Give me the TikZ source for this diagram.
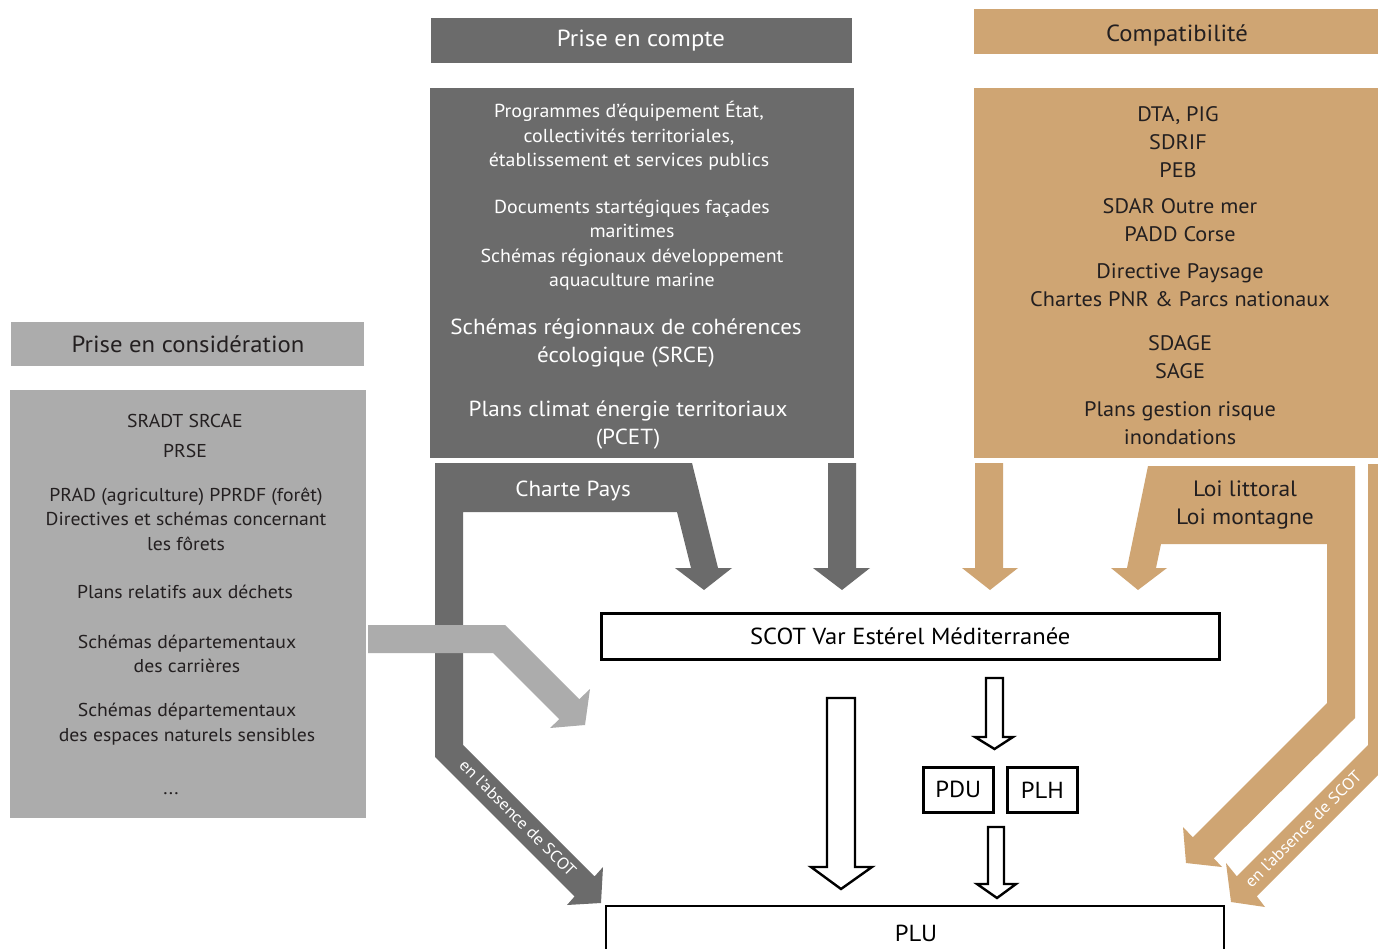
\documentclass[tikz,border=0pt]{standalone}
\usepackage{fontspec}
\setmainfont{PT Sans}[FakeStretch=1.06]
\definecolor{dgrey}{HTML}{6B6B6B}
\definecolor{lgrey}{HTML}{ACACAC}
\definecolor{tanc}{HTML}{CFA573}
\definecolor{ink}{HTML}{231F20}
\begin{document}
\begin{tikzpicture}[x=1pt,y=-1pt,
  small/.style={font=\fontsize{18.8}{24.5}\selectfont, align=center, inner sep=0pt},
  lsmall/.style={font=\fontsize{18.6}{24.5}\selectfont, align=center, inner sep=0pt},
  big/.style={font=\fontsize{21.8}{28.2}\selectfont, align=center, inner sep=0pt},
  tanbig/.style={font=\fontsize{21}{28.2}\selectfont, align=center, inner sep=0pt},
  banner/.style={font=\fontsize{23.3}{28}\selectfont, align=center, inner sep=0pt},
  diag/.style={font=\fontsize{16.4}{18}\selectfont, text=white, inner sep=0pt},
  hollow/.style={draw=black, line width=2.4pt, fill=white, line join=miter},
  frame/.style={draw=black, line width=2.6pt, fill=white}]
\clip (0,0) rectangle (1378,949);
\fill[white] (0,0) rectangle (1378,949);

% --- Prise en compte
\fill[dgrey] (431,18) rectangle (852,63);
\node[banner,text=white] (pec) at (641,41) {Prise en compte};
\fill[dgrey] (430,88) rectangle (854,458);
\node[small,text=white] (d1) at (629,136) {Programmes d’équipement État,\\collectivités territoriales,\\établissement et services publics};
\node[small,text=white] (d2) at (632,245) {Documents startégiques façades\\maritimes\\Schémas régionaux développement\\aquaculture marine};
\node[big,text=white] (d3) at (626,343) {Schémas régionnaux de cohérences\\écologique (SRCE)};
\node[big,text=white] (d4) at (628,425) {Plans climat énergie territoriaux\\(PCET)};

% --- Compatibilite
\fill[tanc] (974,9) rectangle (1378,54);
\node[banner,text=ink] (comp) at (1177,35) {Compatibilité};
\fill[tanc] (974,88) rectangle (1378,458);
\node[tanbig,text=ink] (t1) at (1178,142) {DTA, PIG\\SDRIF\\PEB};
\node[tanbig,text=ink] (t2) at (1180,220) {SDAR Outre mer\\PADD Corse};
\node[tanbig,text=ink] (t3) at (1180,285) {Directive Paysage\\Chartes PNR \& Parcs nationaux};
\node[tanbig,text=ink] (t4) at (1180,357) {SDAGE\\SAGE};
\node[tanbig,text=ink] (t5) at (1180,423) {Plans gestion risque\\inondations};

% --- Prise en consideration
\fill[lgrey] (11,322) rectangle (364,366);
\node[banner,text=ink] (pcons) at (188,344) {Prise en considération};
\fill[lgrey] (10,390) rectangle (366,818);
\node[lsmall,text=ink] (l1) at (185,421) {SRADT SRCAE};
\node[lsmall,text=ink] (l2) at (185,451) {PRSE};
\node[lsmall,text=ink] (l3) at (186,519) {PRAD (agriculture) PPRDF (forêt)\\Directives et schémas concernant\\les fôrets};
\node[lsmall,text=ink] (l4) at (185,592) {Plans relatifs aux déchets};
\node[lsmall,text=ink] (l5) at (187,654) {Schémas départementaux\\des carrières};
\node[lsmall,text=ink] (l6) at (187,724) {Schémas départementaux\\des espaces naturels sensibles};
\node[lsmall,text=ink] (l7) at (171,794) {...};

% --- dark grey arrows
\fill[dgrey] (435,463) -- (692,463) -- (718,568) -- (732,568) -- (704,590) -- (675,568)
  -- (691,568) -- (677,512) -- (463,512) -- (463,745) -- (594.5,876.5) -- (603,867)
  -- (601,903) -- (567,905) -- (574.5,896.5) -- (435,757) -- cycle;
\node[big,text=white] (charte) at (573,491) {Charte Pays};
\node[diag,rotate=-45] (abs1) at (518,818) {en l’absence de SCOT};
\fill[dgrey] (828,463) -- (856,463) -- (856,568) -- (870,568) -- (842,590) -- (813,568) -- (828,568) -- cycle;

% --- light grey arrow
\fill[lgrey] (368,625) -- (505,625) -- (579.25,699.25) -- (590,689) -- (585,725) -- (550,728)
  -- (559.25,719.25) -- (493,653) -- (368,653) -- cycle;

% --- tan arrows
\fill[tanc] (975,463) -- (1003,463) -- (1003,568) -- (1018,568) -- (990,590) -- (962,568) -- (975,568) -- cycle;
\fill[tanc] (1148,466) -- (1355,466) -- (1355,718) -- (1213.75,858.25) -- (1222,867) -- (1186,863)
  -- (1183,827) -- (1192.75,837.25) -- (1327,703) -- (1327,544) -- (1161,544) -- (1156,568)
  -- (1167,568) -- (1138,590) -- (1111,568) -- (1127,568) -- cycle;
\node[font=\fontsize{22.2}{28}\selectfont,align=center,inner sep=0pt,text=ink] (loi) at (1245,505) {Loi littoral\\Loi montagne};
\fill[tanc] (1368,464) -- (1400,464) -- (1400,753) -- (1256.75,896.25) -- (1265,907) -- (1231,902)
  -- (1226,863) -- (1236.75,876.25) -- (1368,745) -- cycle;
\node[diag,rotate=45] (abs2) at (1303,829) {en l’absence de SCOT};

% --- boxes
\node[frame,minimum width=618pt,minimum height=46pt,inner sep=0pt,anchor=north west,
  font=\fontsize{23.2}{26}\selectfont] (scot) at (600,612) {SCOT Var Estérel Méditerranée};
\node[frame,minimum width=70pt,minimum height=45pt,inner sep=0pt,anchor=north west,
  font=\fontsize{23.2}{26}\selectfont] (pdu) at (922,766) {PDU};
\node[frame,minimum width=70pt,minimum height=45pt,inner sep=0pt,anchor=north west,
  font=\fontsize{23.2}{26}\selectfont] (plh) at (1006,766) {PLH};
\draw[frame] (606,906) rectangle (1224,980);
\node[font=\fontsize{23.2}{26}\selectfont] (plu) at (916,933) {PLU};

% --- hollow arrows
\draw[hollow] (827,698) -- (855,698) -- (855,867) -- (872,867) -- (841,889) -- (811,867) -- (827,867) -- cycle;
\draw[hollow] (986,678) -- (1003,678) -- (1003,737) -- (1013,737) -- (994.5,749) -- (975,737) -- (986,737) -- cycle;
\draw[hollow] (988,827) -- (1004,827) -- (1004,884) -- (1016,884) -- (997,898) -- (977,884) -- (988,884) -- cycle;
\end{tikzpicture}
\end{document}
